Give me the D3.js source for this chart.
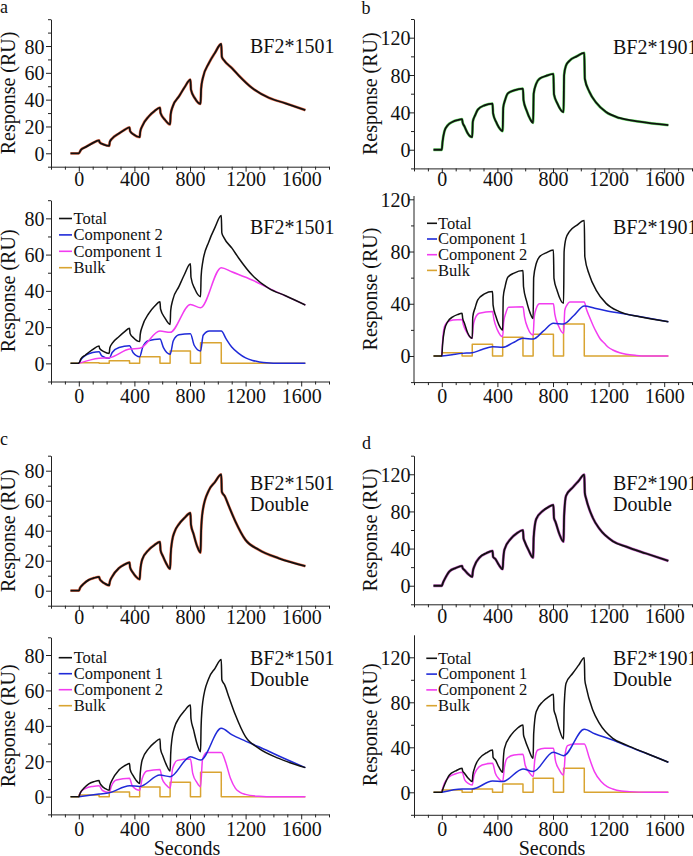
<!DOCTYPE html>
<html><head><meta charset="utf-8">
<script src="https://cdn.jsdelivr.net/npm/d3@7"></script>
<style>
body{margin:0;background:#fff}
svg{display:block}
svg text{font-family:"Liberation Serif","Times New Roman","DejaVu Serif",serif !important;fill:#111}
</style>
</head><body>
<svg id="chart" width="693" height="856" style="font-family:'Liberation Serif',serif"></svg>
<script>
// ---------------- DATA ----------------
const xMajorTicks = [0, 400, 800, 1200, 1600];
const xMinorTicks = [-200, -100, 100, 200, 300, 500, 600, 700, 900, 1000, 1100, 1300, 1400, 1500, 1700, 1800];
const yMajor1501 = [0, 20, 40, 60, 80];
const yMinor1501 = [-10, 10, 30, 50, 70, 90];
const yMinor1501Top = [-10, 10, 30, 50, 70, 90, 100];
const yMajor1901 = [0, 40, 80, 120];
const yMinor1901 = [-20, 20, 60, 100, 140];
const yMinor1901b = [-20, 20, 60, 100];

// BF2*1501 (panel a)
const aTotal = [[-60,0],[0,0],[15,2.5],[48,4.6],[96,7.4],[146,9.6],[150,8.2],[180,6.5],[219,5.5],[223,8.5],[240,11],[288,14.7],[330,17.5],[365,19.4],[369,16.5],[395,14],[438,12],[442,16],[456,20.2],[504,27.6],[545,31.5],[584,34],[588,30],[620,25],[657,21.5],[661,29],[676,35],[720,42.3],[760,49],[803,55],[807,47.5],[835,41],[876,36.8],[880,48],[892,56],[935,67],[980,75],[1025,81.5],[1029,72],[1043,69.5],[1103,63.4],[1151,58],[1247,48.7],[1367,41.4],[1487,37.3],[1630,32.2]];
const aComp1 = [[0,0],[146,2.8],[219,3.1],[365,7.9],[438,8.3],[584,17.8],[657,17.1],[803,32.5],[876,30.7],[1025,52.8],[1100,50.5],[1247,46],[1367,41.5],[1487,37.2],[1630,32.2]];
const aComp2 = [[0,0],[20,2.5],[50,4.5],[100,6],[146,6.4],[165,4.2],[219,2.8],[240,6],[290,8.8],[365,9.7],[390,6],[438,3.7],[460,9],[500,12.5],[584,13.4],[610,8.5],[657,5],[680,12.5],[720,15.8],[803,16.4],[830,10],[876,6.8],[895,15.5],[940,17.8],[1025,17.8],[1060,13.5],[1100,9],[1150,5.5],[1200,3],[1250,1.6],[1300,0.8],[1350,0.3],[1450,0],[1630,0]];
const aBulk = [[-60,0],[0,0],[0,0.4],[146,0.4],[146,0],[219,0],[219,1.5],[365,1.5],[365,0],[438,0],[438,3.7],[584,3.7],[584,0],[657,0],[657,6.8],[803,6.8],[803,0],[876,0],[876,11.4],[1025,11.4],[1025,0],[1630,0]];

// BF2*1901 (panel b)
const bTotal = [[-60,0],[0,0],[5,8],[19,19.9],[43,26.3],[79,30],[115,31.8],[146,32.7],[150,29],[163,25],[185,18],[219,13.5],[223,30],[240,37],[259,42.9],[307,47.5],[365,49.3],[369,39],[390,30],[410,24],[438,19.9],[442,45],[455,53],[475,60.3],[520,63.5],[584,65.4],[588,53],[610,42],[635,33],[657,28.8],[661,60],[680,71],[703,76],[750,79],[803,81.2],[807,59.5],[830,50],[876,40.3],[880,80],[893,90],[918,95.2],[970,100],[1025,103.7],[1029,76],[1062,62],[1110,50.5],[1182,40.3],[1278,34],[1422,30],[1630,26.3]];
const bComp1 = [[0,0],[73,1],[146,2],[219,2.5],[290,5],[365,7.1],[438,6.6],[510,10],[584,13.5],[657,13],[730,19],[803,25],[876,24.5],[950,31],[1025,38.3],[1100,36.5],[1182,34.7],[1300,32.5],[1422,30.3],[1630,26.3]];
const bComp2 = [[0,0],[5,10],[19,22.5],[40,26],[80,27.5],[146,28],[155,24],[175,19],[219,13.5],[225,22],[240,28.8],[270,32.7],[365,34],[375,28],[400,20],[438,14.8],[445,26],[460,32.7],[480,37.3],[584,37.8],[595,30],[620,21],[657,16],[665,30],[680,36.5],[703,40],[803,40],[813,32],[840,23],[876,17.4],[885,35],[900,39],[920,41.4],[1025,41.4],[1040,36],[1062,30],[1090,23],[1110,18.6],[1140,13],[1170,9.7],[1200,6.5],[1230,4.6],[1280,2.5],[1326,1.3],[1400,0.4],[1470,0],[1630,0]];
const bBulk = [[-60,0],[0,0],[0,2.5],[146,2.5],[146,0],[219,0],[219,8.9],[365,8.9],[365,0],[438,0],[438,14.3],[584,14.3],[584,0],[657,0],[657,16.6],[803,16.6],[803,0],[876,0],[876,24.5],[1025,24.5],[1025,0],[1630,0]];

// BF2*1501 Double (panel c)
const cTotal = [[-60,0],[0,0],[10,2],[36,4.7],[72,7.2],[110,8.5],[146,9.2],[150,8],[165,6.2],[190,4.6],[219,3.6],[223,6],[240,9.4],[288,15],[330,17.5],[365,18.8],[369,15.5],[390,12],[410,9.5],[438,7.5],[442,13],[456,20.7],[504,27.3],[545,30.5],[584,32.6],[588,27],[605,23],[630,18],[657,14.5],[661,24],[671,33],[690,39.5],[719,44.2],[760,48.5],[803,51.8],[807,44],[825,38],[850,30],[876,25.4],[880,40],[892,53.6],[935,66.8],[980,72.5],[1025,77.5],[1029,66],[1050,63],[1079,56.5],[1127,46.1],[1199,33.9],[1295,27.3],[1439,21.6],[1630,16.4]];
const cComp1 = [[0,0],[146,1.5],[219,2.2],[365,6.2],[438,5.8],[584,12.2],[657,11.3],[803,22.6],[876,20.7],[1025,38.6],[1100,35],[1199,31.4],[1295,28.2],[1439,23],[1630,16.4]];
const cComp2 = [[0,0],[15,2.8],[50,4.7],[100,5.8],[146,6.2],[170,3.5],[219,2.4],[235,6],[270,9.4],[365,10.4],[385,6],[438,3.6],[455,10],[490,14.5],[584,15.4],[600,10],[630,6.5],[657,4.7],[675,16],[710,20.5],[803,21.3],[820,13],[850,8],[876,5.6],[890,21],[920,25],[1025,25],[1055,19.8],[1091,10.4],[1127,4.7],[1160,2.5],[1199,1.3],[1295,0.2],[1350,0],[1630,0]];
const cBulk = [[-60,0],[0,0],[0,1],[146,1],[146,0],[219,0],[219,2.7],[365,2.7],[365,0],[438,0],[438,5.5],[584,5.5],[584,0],[657,0],[657,8.2],[803,8.2],[803,0],[876,0],[876,13.8],[1025,13.8],[1025,0],[1630,0]];

// BF2*1901 Double (panel d)
const dTotal = [[-60,0],[0,0],[8,3],[19,6.5],[55,15.4],[100,19],[146,21.3],[150,19],[163,16.9],[190,12.5],[219,9.5],[223,15],[235,21.3],[271,30.2],[320,35],[365,37.6],[369,31],[386,28.7],[410,22.5],[438,17.8],[442,28],[451,39.1],[499,51],[540,56.5],[584,59.9],[588,51],[595,48],[625,38],[657,30.2],[661,52],[679,71.7],[727,80.6],[765,84.5],[803,87.1],[807,73],[818,68.7],[845,56],[876,47.4],[880,75],[894,96.9],[942,105.8],[985,113],[1025,119.7],[1029,100],[1038,93.9],[1086,73.2],[1134,61.3],[1230,48],[1326,42.1],[1470,34.7],[1630,26.7]];
const dComp1 = [[0,0],[146,3],[219,3],[365,10],[438,9.5],[584,20.7],[657,18.4],[803,35.6],[876,32.6],[1025,56],[1100,52],[1230,46.5],[1326,41.5],[1470,34.7],[1630,26.7]];
const dComp2 = [[0,0],[8,4],[19,8],[55,13.9],[100,16.5],[146,17.8],[165,11],[190,8],[219,6.5],[230,14],[250,19.9],[290,24.3],[365,25.8],[385,17],[410,12],[438,9.5],[450,22],[470,30.2],[520,33.2],[584,33.8],[600,24],[630,17.5],[657,13.9],[670,30],[690,37.6],[740,39.1],[803,39.1],[818,28],[845,20],[876,15.4],[890,36],[905,41.5],[950,43],[1025,43],[1062,30.2],[1098,18.4],[1146,9.5],[1190,5],[1230,3],[1290,1.2],[1350,0.6],[1470,0],[1630,0]];
const dBulk = [[-60,0],[0,0],[0,2],[146,2],[146,0],[219,0],[219,3],[365,3],[365,0],[438,0],[438,7.4],[584,7.4],[584,0],[657,0],[657,12.4],[803,12.4],[803,0],[876,0],[876,21.3],[1025,21.3],[1025,0],[1630,0]];

// Fitted curves overlay the measured totals (top panels)
const aFit = aTotal, bFit = bTotal, cFit = cTotal, dFit = dTotal;

// ---------------- STYLE / LAYOUT ----------------
const C = {black:"#111111", blue:"#1f2ad8", mag:"#f23cf0", gold:"#d9a431", red:"#f07a5a", green:"#6ae06a", purple:"#c060c0"};
const XL = [51, 329], XR = [414, 692];
const SERIF = "'Liberation Serif','Times New Roman',serif";

const panels = [
  {letter:"a", lx:0, ly:13, side:"L", yDom:[-10,100], yRange:[166.7,19.2], yMaj:yMajor1501, yMin:yMinor1501Top,
   lines:[{d:aFit,c:C.red,w:2.8,fit:true},{d:aTotal,c:C.black,w:1.8}], title:["BF2*1501"], tx:250, ty:53, xlab:19},
  {letter:"b", lx:361.5, ly:13.5, side:"R", yDom:[-20,140], yRange:[168.4,19.0], yMaj:yMajor1901, yMin:yMinor1901,
   lines:[{d:bFit,c:C.green,w:2.8,fit:true},{d:bTotal,c:C.black,w:1.8}], title:["BF2*1901"], tx:613, ty:53.5, xlab:17.5},
  {side:"L", yDom:[-10,90], yRange:[381.5,200.2], yMaj:yMajor1501, yMin:yMinor1501,
   lines:[{d:aBulk,c:C.gold,w:1.5,lin:true},{d:aComp2,c:C.blue,w:1.5},{d:aComp1,c:C.mag,w:1.5},{d:aTotal,c:C.black,w:1.5}],
   title:["BF2*1501"], tx:250, ty:233.5, xlab:21.5,
   legend:{x1:59, x2:72, tx:73.5, y0:218.5, dy:16.4, items:[["Total",C.black],["Component 2",C.blue],["Component 1",C.mag],["Bulk",C.gold]]}},
  {side:"R", yDom:[-20,120], yRange:[382.1,199.3], yTop:196, yMaj:yMajor1901, yMin:yMinor1901b,
   lines:[{d:bBulk,c:C.gold,w:1.5,lin:true},{d:bComp2,c:C.mag,w:1.5},{d:bComp1,c:C.blue,w:1.5},{d:bTotal,c:C.black,w:1.5}],
   title:["BF2*1901"], tx:613, ty:233.5, xlab:21,
   legend:{x1:427, x2:437, tx:438, y0:223.3, dy:15.7, items:[["Total",C.black],["Component 1",C.blue],["Component 2",C.mag],["Bulk",C.gold]]}},
  {letter:"c", lx:0, ly:445, side:"L", yDom:[-10,90], yRange:[605.7,455.7], yMaj:yMajor1501, yMin:yMinor1501,
   lines:[{d:cFit,c:C.red,w:2.8,fit:true},{d:cTotal,c:C.black,w:1.8}], title:["BF2*1501","Double"], tx:250, ty:490, xlab:18},
  {letter:"d", lx:362, ly:449, side:"R", yDom:[-20,140], yRange:[604.3,455.7], yMaj:yMajor1901, yMin:yMinor1901,
   lines:[{d:dFit,c:C.purple,w:2.8,fit:true},{d:dTotal,c:C.black,w:1.8}], title:["BF2*1901","Double"], tx:613, ty:490, xlab:19},
  {side:"L", yDom:[-10,90], yRange:[814.4,637.3], yMaj:yMajor1501, yMin:yMinor1501,
   lines:[{d:cBulk,c:C.gold,w:1.5,lin:true},{d:cComp2,c:C.mag,w:1.5},{d:cComp1,c:C.blue,w:1.5},{d:cTotal,c:C.black,w:1.5}],
   title:["BF2*1501","Double"], tx:250, ty:665, xlab:21.5, xtitle:"Seconds", xtx:187,
   legend:{x1:58.7, x2:72, tx:73.7, y0:657.7, dy:16, items:[["Total",C.black],["Component 1",C.blue],["Component 2",C.mag],["Bulk",C.gold]]}},
  {side:"R", yDom:[-20,140], yRange:[814.8,634.8], yMaj:yMajor1901, yMin:yMinor1901b,
   lines:[{d:dBulk,c:C.gold,w:1.5,lin:true},{d:dComp2,c:C.mag,w:1.5},{d:dComp1,c:C.blue,w:1.5},{d:dTotal,c:C.black,w:1.5}],
   title:["BF2*1901","Double"], tx:613, ty:665, xlab:21.5, xtitle:"Seconds", xtx:552,
   legend:{x1:426.3, x2:437, tx:438, y0:658.3, dy:15.8, items:[["Total",C.black],["Component 1",C.blue],["Component 2",C.mag],["Bulk",C.gold]]}}
];

const svg = d3.select("#chart");
const FONT = 20;
const fmt = d3.format("d");

function serif(sel, size) {
  return sel.attr("font-family", SERIF).style("font-family", SERIF).attr("font-size", size).style("font-size", size + "px");
}

panels.forEach(p => {
  const xr = p.side === "L" ? XL : XR;
  const x = d3.scaleLinear().domain([-200, 1800]).range(xr);
  const y = d3.scaleLinear().domain(p.yDom).range(p.yRange);
  const g = svg.append("g");
  const x0 = xr[0], yb = p.yRange[0];

  // lines
  p.lines.forEach(s => {
    const line = d3.line().x(d => x(d[0])).y(d => y(d[1]))
      .curve(s.lin ? d3.curveLinear : d3.curveMonotoneX);
    g.append("path").datum(s.d).attr("d", line)
      .attr("fill", "none").attr("stroke", s.c).attr("stroke-width", s.w)
      .attr("stroke-linejoin", "round");
  });

  // x axis
  const gx = g.append("g").attr("transform", `translate(0,${yb})`);
  gx.call(d3.axisBottom(x).tickValues(xMajorTicks).tickFormat(fmt).tickSize(5).tickSizeOuter(0));
  const gxm = g.append("g").attr("transform", `translate(0,${yb})`);
  gxm.call(d3.axisBottom(x).tickValues(xMinorTicks).tickSize(3).tickSizeOuter(0).tickFormat(""));
  gxm.select(".domain").remove();
  serif(gx.selectAll("text").attr("y", p.xlab).attr("dy", 0).attr("fill", "#111"), FONT);

  // y axis
  const gy = g.append("g").attr("transform", `translate(${x0},0)`);
  gy.call(d3.axisLeft(y).tickValues(p.yMaj).tickFormat(fmt).tickSize(5).tickSizeOuter(0));
  const gym = g.append("g").attr("transform", `translate(${x0},0)`);
  gym.call(d3.axisLeft(y).tickValues(p.yMin).tickSize(3).tickSizeOuter(0).tickFormat(""));
  gym.select(".domain").remove();
  if (p.yTop) gy.select(".domain").attr("d", `M0,${p.yRange[0]}V${p.yTop}`);
  serif(gy.selectAll("text").attr("x", p.side === "L" ? -6.5 : -3.5).attr("dy", "0.35em").attr("fill", "#111"), FONT);

  [gx, gxm, gy, gym].forEach(a => {
    a.attr("font-family", SERIF).attr("font-size", FONT);
    a.selectAll("line,path").attr("stroke", "#222").attr("stroke-width", 1);
  });

  // y title
  const yc = (p.yRange[0] + (p.yTop || p.yRange[1])) / 2;
  const ytx = p.side === "L" ? 15 : 377;
  serif(g.append("text").attr("transform", `translate(${ytx},${yc}) rotate(-90)`)
    .attr("text-anchor", "middle"), FONT).text("Response (RU)");

  // panel title
  p.title.forEach((t, i) => {
    serif(g.append("text").attr("x", p.tx).attr("y", p.ty + i * 20.7), FONT).text(t);
  });

  // panel letter
  if (p.letter) serif(g.append("text").attr("x", p.lx).attr("y", p.ly), 18).text(p.letter);

  // x title
  if (p.xtitle) serif(g.append("text").attr("x", p.xtx).attr("y", 854.5).attr("text-anchor", "middle"), FONT).text(p.xtitle);

  // legend
  if (p.legend) {
    const L = p.legend;
    L.items.forEach((it, i) => {
      const yy = L.y0 + i * L.dy;
      g.append("line").attr("x1", L.x1).attr("x2", L.x2).attr("y1", yy).attr("y2", yy)
        .attr("stroke", it[1]).attr("stroke-width", 1.6);
      serif(g.append("text").attr("x", L.tx).attr("y", yy + 5.3), 16.5).text(it[0]);
    });
  }
});
</script>
</body></html>
